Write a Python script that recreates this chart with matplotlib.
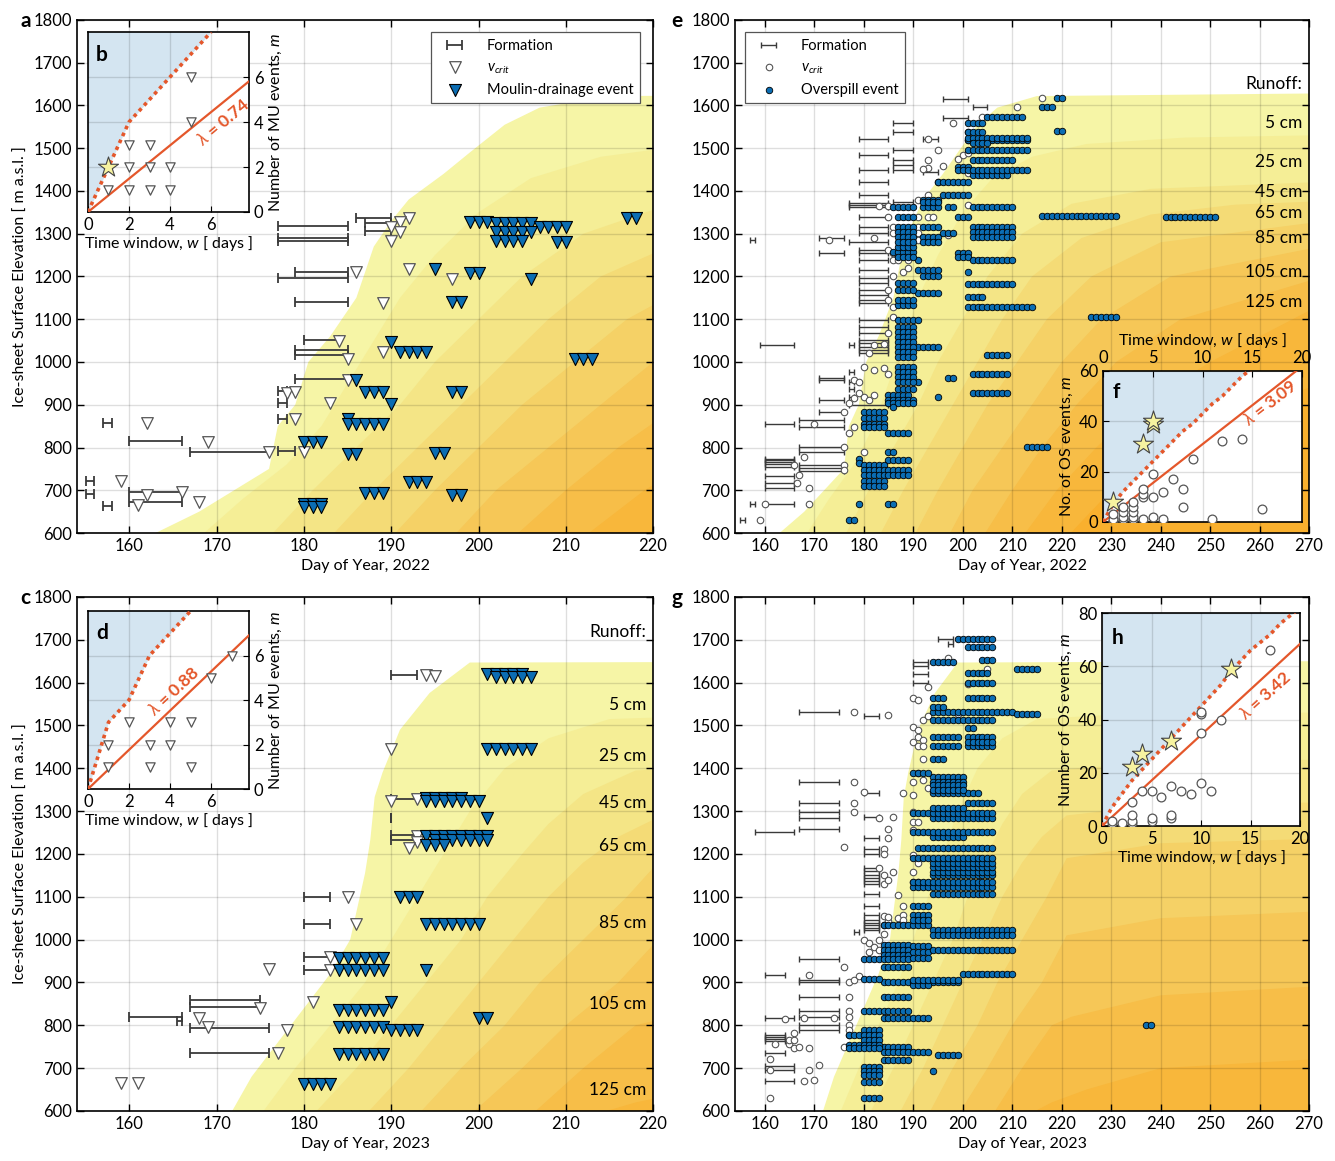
import matplotlib
matplotlib.use('Agg')
import matplotlib.pyplot as plt
from matplotlib.lines import Line2D
import matplotlib.transforms as mtransforms

plt.rcParams['font.family'] = ['Lato', 'DejaVu Sans']
plt.rcParams['mathtext.fontset'] = 'custom'
plt.rcParams['mathtext.it'] = 'Lato:italic'
plt.rcParams['mathtext.rm'] = 'Lato'

# ---------------- runoff contour boundaries (day, elevation) ----------------
runoff_2022 = [
    [(162,590),(168,650),(172,700),(176,750),(177,850),(179,900),(180.5,1000),(183,1060),(186,1150),(188,1270),(190,1330),(192,1380),(196,1440),(199,1490),(203,1555),(207,1595),(215,1622),(270,1628)],
    [(168,590),(173,680),(178,760),(182,850),(185,950),(188,1050),(191,1150),(195,1250),(200,1350),(206,1430),(214,1480),(225,1510),(245,1525),(270,1530)],
    [(176,590),(181,700),(186,800),(191,900),(195,1000),(200,1100),(205,1200),(212,1300),(222,1370),(238,1405),(270,1420)],
    [(183,590),(188,700),(193,800),(198,900),(203,1000),(208,1100),(214,1200),(224,1290),(238,1345),(255,1368),(270,1375)],
    [(190,590),(195,700),(200,800),(205,900),(211,1000),(217,1100),(226,1200),(240,1280),(270,1325)],
    [(197,590),(202,700),(208,800),(214,900),(220,1000),(228,1100),(242,1200),(270,1265)],
    [(204,590),(210,700),(216,800),(223,900),(231,1000),(244,1100),(270,1190)],
    [(212,590),(219,700),(227,800),(236,900),(250,1000),(270,1120)],
    [(221,590),(230,700),(242,800),(260,900),(270,940)],
]
runoff_2023 = [
    [(171.5,590),(174,680),(177,760),(180,840),(183,920),(185.3,1000),(187,1155),(187.6,1233),(188.1,1333),(189,1390),(191,1490),(194.4,1576),(199,1647),(270,1650)],
    [(175,590),(179,700),(183,800),(187,900),(190,1000),(193,1100),(196,1200),(199,1300),(203,1400),(208,1470),(215,1515),(230,1525),(270,1530)],
    [(181,590),(186,700),(190,800),(194,900),(198,1000),(201,1100),(205,1200),(208,1270),(212,1340),(218,1395),(240,1415),(270,1420)],
    [(187,590),(192,700),(196,800),(200,900),(204,1000),(208,1100),(212,1180),(216,1240),(221,1290),(240,1315),(270,1320)],
    [(193,590),(198,700),(203,800),(207,900),(212,1000),(217,1100),(221,1190),(240,1225),(270,1235)],
    [(199,590),(205,700),(210,800),(216,900),(221,1010),(240,1050),(270,1065)],
    [(206,590),(212,700),(218,800),(222,820),(240,870),(270,890)],
    [(213,590),(218,620),(225,650),(240,700),(270,720)],
]
band_colors = ['#f6f5a6', '#f5ee96', '#f4e586', '#f4db76', '#f5d166', '#f6c757', '#f7be48', '#f8b73b', '#f9b02e']
runoff_labels = ['Runoff:', '5 cm', '25 cm', '45 cm', '65 cm', '85 cm', '105 cm', '125 cm']
runoff_label_elev_e = [1650, 1559, 1468, 1398, 1349, 1290, 1210, 1140]
runoff_label_elev_c = [1718, 1548, 1429, 1319, 1219, 1039, 850, 649]

# ---------------- panel a : 2022 moulin drainage ----------------
bars_a = [(857,157,158),(815,160,166),(789,167,176),(722,155,156),(692,155,156),(697,160,166),(672,160,166),(664,157,158),
          (933,177,178),(903,177,178),(867,177,178),(792,177,179),
          (1336,186,190),(1326,187,190),(1306,187,190),(1318,177,185),(1289,177,185),(1284,177,185),(1211,179,185),
          (1196,177,185),(1141,179,185),(1051,180,184),(1028,179,185),(1016,179,185),(960,179,185)]
vcrit_a = [(162,857),(169,812),(176,789),(159,722),(162,688),(166,695),(161,665),(168,672),(178,927),(179,930),(179,867),
           (180,790),(192,1336),(191,1328),(190,1316),(191,1305),(190,1283),(186,1211),(192,1217),(197,1193),(189,1139),
           (184,1049),(189,1024),(185,1008),(185,958),(183,903)]
events_a = [(1328,199,201),(1324,202,206),(1316,207,210),(1305,202,206),(1283,202,205),(1281,209,210),(1336,217,218),
            (1217,195,195),(1209,199,200),(1193,206,206),(1140,197,198),(1047,190,190),(1024,191,194),(1008,211,213),
            (958,186,186),(930,187,189),(930,197,198),(902,190,190),(867,185,185),(855,185,189),(812,180,182),
            (784,185,186),(788,195,196),(720,192,194),(693,187,189),(689,197,198),(668,180,182),(662,180,182)]

# ---------------- panel c : 2023 moulin drainage ----------------
bars_c = [(1619,190,193),(1328,190,193),(1283,190,190),(1244,190,193),(1233,190,193),(1100,180,183),(1036,180,183),
          (959,180,183),(929,180,183),(858,167,175),(843,167,175),(820,160,166),(810,165.5,166),(793,167,176),(735,167,176)]
vcrit_c = [(194,1619),(195,1615),(190,1444),(190,1324),(193,1328),(193,1242),(193,1229),(192,1213),(185,1100),(186,1036),
           (183,959),(183,929),(181,855),(175,840),(168,818),(169,797),(177,735),(176,932),(178,790),(159,665),(161,665)]
events_c = [(1620,201,205),(1614,202,206),(1444,201,206),(1330,194,198),(1324,194,200),(1283,201,201),(1242,194,201),
            (1232,195,201),(1222,194,196),(1100,191,193),(1036,194,200),(957,184,189),(928,184,189),(929,194,194),
            (855,190,190),(836,184,189),(816,200,201),(795,184,189),(789,190,193),(732,184,189),(664,180,183)]

# ---------------- panel e : 2022 overspill ----------------
bars_e = [(630,155,156),(667,157,158),(667,160,166),(1040,159,166),(1285,157,158),(856,160,166),(774,160,166),(770,160,166),
          (767,160,166),(761,160,166),(755,160,166),(733,160,166),(716,160,166),(706,160,166),
          (864,167,176),(849,167,176),(802,167,176),(790,167,176),(759,167,176),(753,167,176),(745,167,176),
          (958,171,176),(962,171,176),(911,171,176),(884,171,176),(1289,171,176),(1256,171,176),
          (1367,177,185),(1362,177,185),(1372,177,185),(1281,177,185),(899,177,185),
          (1521,179,185),(1484,179,185),(1449,179,185),(1422,179,185),(1391,179,185),(1340,179,185),(1316,179,185),
          (1301,179,185),(1262,179,185),(1254,179,185),(1238,179,185),(1215,179,185),(1196,179,185),(1184,179,185),
          (1168,179,185),(1156,179,185),(1145,179,185),(1137,179,185),(1098,179,185),(1083,179,185),(1067,179,185),
          (1052,179,185),(1044,179,185),(1036,179,185),(1028,179,185),(1020,179,185),
          (1560,186,190),(1539,186,190),(1496,186,190),(1472,186,190),(1460,186,190),(1449,186,190),(1375,186,190),
          (1615,196,201),(1570,196,201),(1597,202,205),(1521,192,195),(1445,192,195),
          (1040,177,178),(977,177,178),(954,177,178),(938,177,178),(919,177,178)]
vcrit_e = [(159,630),(160,667),(169,667),(166.5,716),(169,706),(166,759),(167,736),(168,778),(170,856),(176,884),(176,802),
           (176,759),(176,747),(177,833),(178,848),(177,903),(178,915),(179,927),(180,919),(181,911),(182,923),(180,790),
           (178,958),(179,954),(180,989),(182,981),(184,985),(185,973),(181,1020),(182,1040),(184,1043),(185,1067),
           (186,1106),(185,1145),(186,1129),(185,1168),(186,1200),(188,1211),(189,1219),(186,1238),(187,1238),(189,1238),
           (185,1262),(186,1254),(182,1289),(173,1285),(183,1365),(185,1365),(185,1340),(186,1316),(186,1301),(191,1340),
           (191,1316),(191,1301),(191,1285),(193,1340),(194,1340),(191,1379),(193,1391),(197,1297),(201,1367),(195,1422),
           (193,1453),(192,1451),(193,1472),(195,1496),(193,1521),(198,1560),(199,1474),(200,1484),(201,1539),(201,1519),
           (201,1488),(201,1441),(196,1458),(216,1617),(211,1597),(204,1574)]
events_e = [(630,177,178),(667,179,179),(667,185,186),(774,179,179),(763,179,179),(790,185,186),(771,185,189),
            (759,180,184),(747,180,189),(735,180,189),(721,180,184),(710,180,184),
            (833,185,189),(884,180,184),(868,180,184),(856,180,184),(848,180,184),
            (923,185,189),(911,185,190),(903,185,190),(895,186,186),
            (954,191,191),(962,197,198),(919,195,195),(938,187,190),
            (989,187,190),(977,187,190),(966,187,190),(954,187,190),
            (928,202,209),(971,202,209),(1016,205,209),(1036,191,195),
            (1083,187,190),(1071,187,190),(1059,187,190),(1047,187,190),(1036,187,190),(1024,187,190),(1012,187,190),
            (1098,187,191),(1133,187,190),(1145,187,190),(1161,191,195),(1168,187,190),(1184,187,190),(1200,192,195),
            (1215,191,195),(1238,191,191),(1211,201,201),(1254,199,201),(1246,199,201),(1238,202,210),(1258,186,190),
            (1246,187,190),(1270,187,190),(1316,187,190),(1305,187,190),(1293,187,190),(1281,187,190),(1316,192,195),
            (1293,192,195),(1281,192,195),(1301,196,198),(1316,202,210),(1305,202,210),(1293,202,210),
            (1340,187,190),(1340,199,201),(1363,186,190),(1363,192,195),(1363,197,198),(1363,202,210),(1378,192,195),
            (1374,192,195),(1390,196,201),(1422,195,201),(1437,202,209),(1457,199,201),(1449,199,201),(1449,202,213),
            (1472,202,210),(1496,201,213),(1519,201,213),(1523,201,213),(1512,202,205),(1539,201,204),(1558,201,204),
            (1572,205,212),(1597,216,218),(1617,219,220),(1541,219,220),
            (1341,216,231),(1338,241,251),(1129,201,214),(1151,201,204),(1182,201,210),(1106,226,231),(801,213,217)]

# ---------------- panel g : 2023 overspill ----------------
bars_g = [(1532,167,175),(1523,180,183),(1367,167,175),(1343,180,183),(1318,167,175),(1297,167,175),(1283,167,175),
          (1258,167,175),(1252,158,166),(1287,180,183),(1238,180,183),(1211,180,183),(1201,180,183),(1167,180,183),
          (1160,180,183),(1152,180,183),(1145,180,183),(1138,180,183),(1131,180,183),(1106,180,183),(1079,180,183),
          (1057,180,183),(1046,180,183),(1040,180,183),(1034,180,183),(1028,180,183),(1022,180,183),(1017,178,179),
          (954,167,175),(918,160,164),(906,167,175),(902,167,175),(865,167,175),(834,167,175),(820,167,175),
          (801,167,175),(789,167,175),(816,160,166),(777,160,164),(773,160,164),(768,160,164),(763,160,164),
          (735,160,164),(705,160,166),(696,160,166),(669,160,166),(1649,190,193),(1640,190,193),(1620,190,193),
          (1600,190,193),(1701,195,198),(1690,197,198)]
vcrit_g = [(161,631),(161,721),(161,696),(162,756),(164,814),(165,756),(165,766),(166,766),(166,781),(166,746),(167,750),
           (168,816),(169,746),(169,696),(168,669),(170,672),(171,707),(169,918),(174,816),(176,937),(177,867),(177,834),
           (177,820),(177,801),(177,789),(177,777),(176,750),(177,902),(178,906),(179,914),(180,999),(181,991),(182,983),
           (183,999),(181,972),(183,976),(184,969),(184,1014),(184,1035),(185,1043),(184,1055),(185,1053),(187,1050),
           (188,1058),(178,1367),(178,1318),(178,1297),(176,1217),(180,1344),(183,1283),(185,1258),(185,1237),(184,1211),
           (184,1200),(183,1167),(184,1151),(184,1131),(186,1159),(185,1139),(187,1104),(188,1079),(188,1046),(185,1524),
           (178,1532),(188,1343),(186,1287),(190,1563),(191,1559),(190,1497),(191,1489),(191,1474),(192,1466),(190,1462),
           (191,1451),(192,1451),(192,1421),(191,1390),(192,1373),(190,1369),(193,1353),(190,1338),(190,1299),(190,1275),
           (191,1275),(190,1256),(190,1197),(191,1178),(190,1159),(190,1135),(191,1135),(193,1590),(192,1513),(193,1521),
           (197,1657),(205,1633),(201,1598),(199,1527)]
events_g = [(630,180,183),(668,180,183),(703,180,183),(694,180,183),(684,180,183),(694,194,194),(731,195,199),
            (750,184,189),(738,184,193),(720,184,189),(789,180,183),(777,177,183),(766,180,183),(754,177,183),(746,177,183),
            (816,184,193),(834,180,189),(865,184,189),(902,184,199),(894,190,193),(907,180,183),(920,200,210),(906,190,199),
            (937,184,189),(954,180,183),(988,184,189),(976,184,189),(964,184,189),(954,184,189),(984,190,193),(972,190,193),
            (956,190,193),(976,194,210),(1022,194,210),(1011,194,210),(1034,184,193),(1057,190,193),(1046,190,193),
            (1079,190,193),(1106,194,206),(1124,190,206),(1135,190,206),(1151,194,206),(1159,194,206),(1170,194,206),
            (1178,194,206),(1190,190,206),(1213,191,206),(1239,194,200),(1252,190,206),(1283,194,206),(1295,190,206),
            (1307,194,200),(1318,201,206),(1343,194,203),(1380,194,200),(1369,194,200),(1361,194,200),(1349,194,200),
            (1390,190,193),(1421,194,196),(1451,194,199),(1474,194,199),(1451,201,206),(1474,201,206),(1462,201,206),
            (1493,201,202),(1513,194,206),(1532,194,210),(1526,211,215),(1542,194,196),(1563,194,196),(1563,201,206),
            (1600,201,206),(1623,201,205),(1633,211,215),(1649,194,198),(1654,204,206),(1684,201,206),(1701,199,206),
            (801,237,238)]

# ---------------- insets ----------------
b_w = [1,2,3,4,2,3,4,2,3,5,5]; b_m = [1,1,1,1,2,2,2,3,3,4,6]
b_star_w = [1]; b_star_m = [2]
b_crit_w = [0,1,2,3,4,5,6]; b_crit_m = [0,2,4,5,6,7,8]
b_lam = 0.74

d_w = [1,1,2,3,3,4,4,5,5,6,7]; d_m = [1,2,3,1,2,2,3,3,1,5,6]
d_star_w = []; d_star_m = []
d_crit_w = [0,1,2,3,4,5]; d_crit_m = [0,3,4,6,7,8]
d_lam = 0.88

f_w = [1,1,1,2,2,2,2,3,3,3,3,3,4,4,4,4,5,5,5,6,6,7,8,8,9,11,12,14,16]
f_m = [0.5,1,3,1,2,4,6,1,2,4,6,8,1,10,11,13,2,10,19,1,12,17,6,13,25,1,32,33,5]
f_star_w = [1,4,5,5]; f_star_m = [8,31,39,40]
f_crit_w = list(range(16)); f_crit_m = [0,7,12,16,20,24,28,32,36,39,43,47,50,54,58,61]
f_lam = 3.09

h_w = [1,1,2,3,3,3,3,4,5,5,5,6,7,7,7,8,9,10,10,10,10,11,12,17]
h_m = [1,2,1,1,2,4,9,13,2,3,13,11,3,4,15,13,12,16,35,42,43,13,40,66]
h_star_w = [3,4,7,13]; h_star_m = [22,27,32,59]
h_crit_w = list(range(21)); h_crit_m = [0,7,12,17,21,25,29,33,37,41,45,49,53,58,62,66,69,72,76,79,82]
h_lam = 3.42

BLUE = '#0b6db3'
ORANGE = '#e4572b'
SHADE = '#d4e5f1'

fig = plt.figure(figsize=(13.35, 11.61), dpi=100)

def setup_main(ax, xmax, xticks):
    ax.set_xlim(154, xmax)
    ax.set_ylim(600, 1800)
    ax.set_xticks(xticks)
    ax.set_yticks(range(600, 1801, 100))
    ax.tick_params(direction='in', top=True, right=True, length=5, width=1, labelsize=12)
    ax.grid(True, color='black', alpha=0.13, lw=1)
    ax.set_axisbelow('line')
    for s in ax.spines.values():
        s.set_linewidth(1.2)

def draw_runoff(ax, contours):
    for verts, col in zip(contours, band_colors):
        xs = [v[0] for v in verts] + [330, 330, verts[0][0]]
        ys = [v[1] for v in verts] + [verts[-1][1], 550, 550]
        ax.fill(xs, ys, color=col, lw=0, zorder=0.2)

def expand(events):
    xs, ys = [], []
    for el, d0, d1 in events:
        for d in range(int(d0), int(d1) + 1):
            xs.append(d); ys.append(el)
    return xs, ys

def draw_bars(ax, bars, lw, cap):
    y = [b[0] for b in bars]
    x0 = [b[1] for b in bars]
    ln = [b[2] - b[1] for b in bars]
    return ax.errorbar(x0, y, xerr=[[0]*len(bars), ln], fmt='none', ecolor='#3a3a3a',
                       elinewidth=lw, capsize=cap, capthick=lw, zorder=2, label='Formation')

def draw_mu(ax, bars, vcrit, events):
    h1 = draw_bars(ax, bars, 1.3, 3.5)
    h2 = ax.scatter([v[0] for v in vcrit], [v[1] for v in vcrit], marker='v', s=70, facecolor='white',
                    edgecolor='#555555', linewidth=0.9, zorder=3, label='$v_{crit}$')
    ex, ey = expand(events)
    h3 = ax.scatter(ex, ey, marker='v', s=75, facecolor=BLUE, edgecolor='black', linewidth=0.8, zorder=4,
                    label='Moulin-drainage event')
    return [h1, h2, h3]

def draw_os(ax, bars, vcrit, events):
    h1 = draw_bars(ax, bars, 1.0, 2.2)
    h2 = ax.scatter([v[0] for v in vcrit], [v[1] for v in vcrit], marker='o', s=22, facecolor='white',
                    edgecolor='#555555', linewidth=0.8, zorder=3, label='$v_{crit}$')
    ex, ey = expand(events)
    h3 = ax.scatter(ex, ey, marker='o', s=22, facecolor=BLUE, edgecolor='black', linewidth=0.6, zorder=4,
                    label='Overspill event')
    return [h1, h2, h3]

def runoff_text(ax, elevs):
    tr = mtransforms.blended_transform_factory(ax.transAxes, ax.transData)
    for lab, el in zip(runoff_labels, elevs):
        ax.text(0.988, el, lab, transform=tr, ha='right', va='center', fontsize=12.5, zorder=6)

# main axes
ax_a = fig.add_axes([0.0577, 0.5409, 0.4315, 0.4419])
ax_c = fig.add_axes([0.0577, 0.0431, 0.4315, 0.4427])
ax_e = fig.add_axes([0.5506, 0.5409, 0.4300, 0.4419])
ax_g = fig.add_axes([0.5506, 0.0431, 0.4300, 0.4427])

for ax, cont, xmax in [(ax_a, runoff_2022, 220), (ax_c, runoff_2023, 220), (ax_e, runoff_2022, 270), (ax_g, runoff_2023, 270)]:
    setup_main(ax, xmax, range(160, xmax + 1, 10))
    draw_runoff(ax, cont)

hand_a = draw_mu(ax_a, bars_a, vcrit_a, events_a)
draw_mu(ax_c, bars_c, vcrit_c, events_c)
hand_e = draw_os(ax_e, bars_e, vcrit_e, events_e)
draw_os(ax_g, bars_g, vcrit_g, events_g)

runoff_text(ax_e, runoff_label_elev_e)
runoff_text(ax_c, runoff_label_elev_c)

for ax in (ax_a, ax_c):
    ax.set_ylabel('Ice-sheet Surface Elevation [ m a.s.l. ]', fontsize=11.5)
ax_a.set_xlabel('Day of Year, 2022', fontsize=11.5)
ax_e.set_xlabel('Day of Year, 2022', fontsize=11.5)
ax_c.set_xlabel('Day of Year, 2023', fontsize=11.5)
ax_g.set_xlabel('Day of Year, 2023', fontsize=11.5)

leg_kw = dict(fontsize=10.5, frameon=True, fancybox=False, framealpha=1, edgecolor='#555555',
              borderpad=0.45, handlelength=2.4, labelspacing=0.5, handletextpad=1.0)
leg_a = ax_a.legend(hand_a, [h.get_label() for h in hand_a], loc='upper right', bbox_to_anchor=(0.99, 0.99), **leg_kw)
leg_a.get_frame().set_linewidth(0.9)
leg_a.set_zorder(8)
leg_e = ax_e.legend(hand_e, [h.get_label() for h in hand_e], loc='upper left', bbox_to_anchor=(0.004, 0.99), **leg_kw)
leg_e.get_frame().set_linewidth(0.9)
leg_e.set_zorder(8)

for lab, x, y in [('a', 0.015, 0.982), ('c', 0.015, 0.485), ('e', 0.503, 0.982), ('g', 0.503, 0.485)]:
    fig.text(x, y, lab, fontsize=15, fontweight='bold', ha='left', va='center')

# insets
def inset(rect, xlim, ylim, xticks, yticks, w, m, sw, sm, cw, cm, lam, marker, ms, letter,
          lam_xy, lam_rot, ylabel, yright=False, xtop=False):
    ax = fig.add_axes(rect)
    ax.set_zorder(10)
    ax.set_facecolor('white')
    ax.set_xlim(*xlim); ax.set_ylim(*ylim)
    ax.set_xticks(xticks); ax.set_yticks(yticks)
    ax.grid(True, color='black', alpha=0.13, lw=1)
    ax.set_axisbelow(True)
    top_fill = [ylim[1] * 1.5] * len(cw)
    ax.fill_between(cw, cm, top_fill, color=SHADE, lw=0, zorder=0.5)
    ax.plot(cw, cm, ls=(0, (1, 1.1)), color=ORANGE, lw=2.6, zorder=3)
    ax.plot([0, xlim[1]], [0, lam * xlim[1]], color=ORANGE, lw=1.6, zorder=3)
    ax.scatter(w, m, marker=marker, s=ms, facecolor='white', edgecolor='#555555', linewidth=0.9, zorder=4)
    if sw:
        ax.scatter(sw, sm, marker='*', s=230, facecolor='#f7f3a0', edgecolor='#444444', linewidth=0.8, zorder=5)
    ax.text(lam_xy[0], lam_xy[1], '$\\lambda$ = %.2f' % lam, color=ORANGE, fontsize=12.5, fontweight='bold',
            rotation=lam_rot, ha='center', va='center', zorder=6)
    ax.text(0.05, 0.93, letter, transform=ax.transAxes, fontsize=15, fontweight='bold', ha='left', va='top', zorder=6)
    ax.tick_params(direction='in', length=4, labelsize=12, top=False, right=False)
    if yright:
        ax.yaxis.tick_right(); ax.yaxis.set_label_position('right')
        ax.tick_params(axis='y', direction='in', length=4)
    if xtop:
        ax.xaxis.tick_top(); ax.xaxis.set_label_position('top')
        ax.tick_params(axis='x', direction='in', length=4)
        ax.set_xlabel('Time window, $w$ [ days ]', fontsize=11.5, labelpad=4)
    else:
        ax.set_xlabel('Time window, $w$ [ days ]', fontsize=11.5, labelpad=1)
    ax.set_ylabel(ylabel, fontsize=11.5, labelpad=3)
    for s in ax.spines.values():
        s.set_linewidth(1.2)
    return ax

inset([0.0659, 0.8174, 0.1206, 0.1550], (0, 7.85), (0, 8), [0, 2, 4, 6], [0, 2, 4, 6], b_w, b_m, b_star_w, b_star_m,
      b_crit_w, b_crit_m, b_lam, 'v', 45, 'b', (6.6, 4.0), 40, 'Number of MU events, $m$', yright=True)
inset([0.0659, 0.3204, 0.1206, 0.1533], (0, 7.85), (0, 8), [0, 2, 4, 6], [0, 2, 4, 6], d_w, d_m, d_star_w, d_star_m,
      d_crit_w, d_crit_m, d_lam, 'v', 45, 'd', (4.2, 4.4), 43, 'Number of MU events, $m$', yright=True)
inset([0.8262, 0.5504, 0.1491, 0.1301], (0, 20), (0, 60), [0, 5, 10, 15, 20], [0, 20, 40, 60], f_w, f_m, f_star_w, f_star_m,
      f_crit_w, f_crit_m, f_lam, 'o', 40, 'f', (16.8, 47.5), 38, 'No. of OS events, $m$', xtop=True)
inset([0.8255, 0.2885, 0.1483, 0.1835], (0, 20), (0, 80), [0, 5, 10, 15, 20], [0, 20, 40, 60, 80], h_w, h_m, h_star_w, h_star_m,
      h_crit_w, h_crit_m, h_lam, 'o', 40, 'h', (16.5, 49), 42, 'Number of OS events, $m$')

fig.savefig('out.png', dpi=100)
